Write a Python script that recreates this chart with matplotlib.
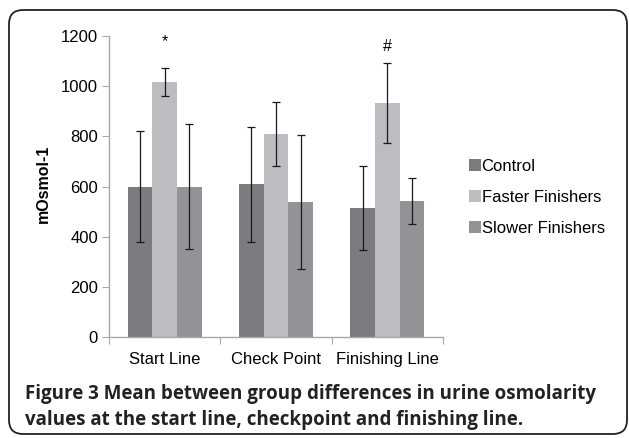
import numpy as np
import matplotlib
matplotlib.use("Agg")
import matplotlib.pyplot as plt
from matplotlib.patches import FancyBboxPatch

# data (mOsmol-1)
categories = ["Start Line", "Check Point", "Finishing Line"]
groups = ["Control", "Faster Finishers", "Slower Finishers"]
control = [600, 609, 515]
faster = [1017, 811, 933]
slower = [600, 539, 543]
control_err = [222, 230, 166]
faster_err = [56, 127, 158]
slower_err = [250, 267, 92]
marks = ["*", "", "#"]
mark_y = [1177, 0, 1157]

colors = ["#7b7b80", "#bdbdc1", "#939397"]
axis_col = "#a8a8a8"

plt.rcParams["font.family"] = ["Liberation Sans", "DejaVu Sans"]

fig = plt.figure(figsize=(6.29, 4.38), dpi=100)
ax = fig.add_axes([109 / 629, 1 - 337.3 / 438, 334 / 629, 301.3 / 438])

x = np.arange(len(categories))
w = 1 / 4.5
series = [control, faster, slower]
errs = [control_err, faster_err, slower_err]
for i, (vals, e) in enumerate(zip(series, errs)):
    ax.bar(x + (i - 1) * w, vals, w, color=colors[i], label=groups[i],
           yerr=e, error_kw=dict(ecolor="#1a1a1a", elinewidth=0.9,
                                 capsize=2.8, capthick=0.9))

for i, m in enumerate(marks):
    if m:
        ax.text(x[i], mark_y[i], m, ha="center", va="center", fontsize=11.5)

ax.set_xlim(-0.5, 2.5)
ax.set_ylim(0, 1200)
ax.set_yticks(range(0, 1201, 200))
ax.tick_params(axis="y", labelsize=12, length=5, color=axis_col, pad=3)
ax.set_xticks([-0.5, 0.5, 1.5, 2.5])
ax.set_xticklabels([])
ax.set_xticks(x, minor=True)
ax.set_xticklabels(categories, minor=True, fontsize=12)
ax.tick_params(axis="x", which="major", length=5, color=axis_col)
ax.tick_params(axis="x", which="minor", length=0, pad=10.5)
for s in ["top", "right"]:
    ax.spines[s].set_visible(False)
for s in ["left", "bottom"]:
    ax.spines[s].set_color(axis_col)
    ax.spines[s].set_linewidth(1.0)

fig.text(43.5 / 629, 1 - 184 / 438, "mOsmol-1", rotation=90, ha="center",
         va="center", fontsize=11.5, fontweight="bold")

leg = ax.legend(loc="center left", bbox_to_anchor=(469 / 629, 1 - 197.5 / 438),
                bbox_transform=fig.transFigure, frameon=False, fontsize=12,
                handlelength=0.7, handleheight=0.7, handletextpad=0.05,
                labelspacing=0.95, borderpad=0, borderaxespad=0)

# caption and rounded frame
cap_font = ["Open Sans", "DejaVu Sans"]
fig.text(25 / 629, 1 - 394 / 438,
         "Figure 3 Mean between group differences in urine osmolarity",
         ha="left", va="center", fontsize=13.5, fontweight="bold",
         family=cap_font, color="#222222")
fig.text(25 / 629, 1 - 420 / 438,
         "values at the start line, checkpoint and finishing line.",
         ha="left", va="center", fontsize=13.5, fontweight="bold",
         family=cap_font, color="#222222")

frame = FancyBboxPatch((9, 4), 618, 424,
                       boxstyle="round,pad=0,rounding_size=14",
                       fill=False, edgecolor="#222222", linewidth=1.3,
                       transform=None)
fig.add_artist(frame)

fig.savefig("out.png", dpi=100)
